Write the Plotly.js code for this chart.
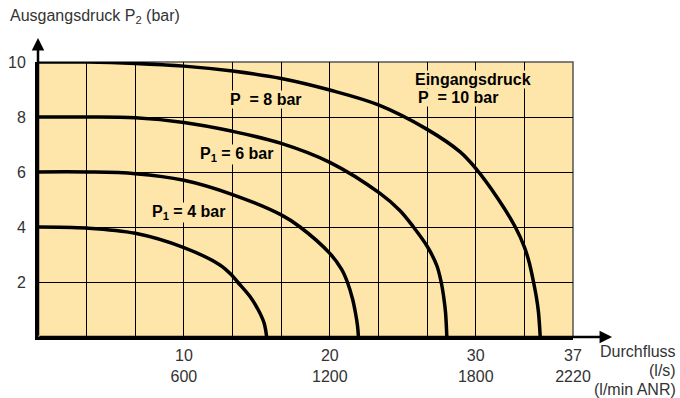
<!DOCTYPE html>
<html>
<head>
<meta charset="utf-8">
<script src="https://cdn.plot.ly/plotly-3.0.1.min.js"></script>
<style>
  body { margin: 0; background: #fff; }
  #chart { width: 680px; height: 398px; }
</style>
</head>
<body>
<div id="chart"></div>
<script>
// Durchfluss (l/s) and Ausgangsdruck P2 (bar) for each Eingangsdruck
const flow4 = [0, 3.33, 6.67, 10, 12.47, 13.33, 13.68, 14.53, 15.1, 15.5, 15.67];
const press4 = [4, 3.96, 3.77, 3.25, 2.62, 2.22, 2.0, 1.47, 0.98, 0.5, 0];

const flow6 = [0, 3.33, 6.67, 10, 13.33, 16.67, 17.96, 20, 20.82, 21.2, 21.55, 21.75, 21.9, 21.96];
const press6 = [6, 6, 5.94, 5.7, 5.18, 4.44, 4.0, 3.04, 2.45, 2.0, 1.4, 0.9, 0.4, 0];

const flow8 = [0, 3.33, 6.67, 10, 13.33, 16.67, 20, 23.44, 24.8, 25.73, 26.67, 27.33, 27.63, 27.8, 27.93, 28.02];
const press8 = [8, 8, 7.97, 7.8, 7.48, 7.04, 6.35, 5.22, 4.6, 4.0, 3.3, 2.6, 2.0, 1.47, 0.9, 0];

const flow10 = [0, 3.33, 6.67, 10, 13.33, 16.67, 20, 23.33, 26.67, 28.93, 30, 31.56, 32.71, 33.33, 33.67, 33.96, 34.15, 34.3, 34.42];
const press10 = [10, 10, 9.95, 9.85, 9.67, 9.4, 8.98, 8.44, 7.55, 6.73, 6.13, 5.0, 4.0, 3.28, 2.7, 2.0, 1.47, 0.9, 0];

// axis ticks
const xTickVals = [10, 20, 30, 110 / 3];
const xTickText = ['10<br>600', '20<br>1200', '30<br>1800', '37<br>2220'];
const yTickVals = [2, 4, 6, 8, 10];
const xTitleLines = ['Durchfluss', '(l/s)', '(l/min ANR)'];

const font = 'Liberation Sans, Arial, Helvetica, sans-serif';
const bg = '#FEE6AB';

function curve(x, y) {
    return {
        x: x,
        y: y,
        mode: 'lines',
        line: { color: '#000', width: 3.5, shape: 'spline', smoothing: 1 },
        cliponaxis: false,
        hoverinfo: 'skip',
        showlegend: false
    };
}

const data = [
    curve(flow4, press4),
    curve(flow6, press6),
    curve(flow8, press8),
    curve(flow10, press10)
];

function label(text, x, y) {
    return {
        text: text, x: x, y: y, xref: 'x', yref: 'y',
        showarrow: false, bgcolor: bg, borderpad: 0,
        font: { family: font, size: 16, color: '#000', weight: 'bold' }
    };
}

// x axis title, one line per annotation (tighter line spacing than <br>)
const xTitle = xTitleLines.map((t, i) => ({
    text: t, x: 1.196, y: -0.0545 - i * 0.0691, xref: 'paper', yref: 'paper',
    xanchor: 'right', yanchor: 'middle', showarrow: false,
    font: { family: font, size: 16, color: '#333' }
}));

const layout = {
    width: 680,
    height: 398,
    margin: { l: 38, r: 107, t: 62, b: 61 },
    paper_bgcolor: '#fff',
    plot_bgcolor: bg,
    font: { family: font, size: 16, color: '#333' },
    xaxis: {
        range: [0, 110 / 3],
        tickmode: 'array',
        tickvals: xTickVals,
        ticktext: xTickText,
        ticks: '',
        ticklabelstandoff: 2,
        showgrid: true,
        gridcolor: '#000',
        gridwidth: 1,
        minor: { tickmode: 'linear', tick0: 0, dtick: 10 / 3, showgrid: true, gridcolor: '#000', gridwidth: 1 },
        zeroline: false,
        showline: true,
        linecolor: '#000',
        linewidth: 3,
        fixedrange: true
    },
    yaxis: {
        range: [0, 10],
        tickmode: 'array',
        tickvals: yTickVals,
        ticks: '',
        ticklabelstandoff: 6,
        showgrid: true,
        gridcolor: '#000',
        gridwidth: 1,
        zeroline: false,
        showline: true,
        linecolor: '#000',
        linewidth: 3,
        fixedrange: true
    },
    shapes: [
        { type: 'rect', xref: 'paper', yref: 'paper', x0: 0, x1: 1, y0: 0, y1: 1,
          line: { color: '#555', width: 1.5 }, layer: 'below' }
    ],
    annotations: [
        label('P\u00a0\u00a0= 8 bar', 15.62, 8.65),
        label('P<sub>1</sub> = 6 bar', 13.61, 6.62),
        label('P<sub>1</sub> = 4 bar', 10.34, 4.52),
        label('Eingangsdruck', 29.79, 9.37),
        label('P\u00a0\u00a0= 10 bar', 28.8, 8.7),
        // axis arrows
        { x: 0, y: 1.087, xref: 'paper', yref: 'paper', ax: 0, ay: 299, text: '',
          showarrow: true, arrowhead: 2, arrowsize: 1, arrowwidth: 2.5, arrowcolor: '#000' },
        { x: 1.073, y: 0, xref: 'paper', yref: 'paper', ax: -574, ay: 0, text: '',
          showarrow: true, arrowhead: 2, arrowsize: 1, arrowwidth: 2.5, arrowcolor: '#000' },
        // y axis title
        { text: 'Ausgangsdruck P<sub>2</sub> (bar)', x: -0.056, y: 1.164, xref: 'paper', yref: 'paper',
          xanchor: 'left', yanchor: 'middle', showarrow: false,
          font: { family: font, size: 16, color: '#333' } }
    ].concat(xTitle)
};

Plotly.newPlot('chart', data, layout, { displayModeBar: false, staticPlot: true });
</script>
</body>
</html>
